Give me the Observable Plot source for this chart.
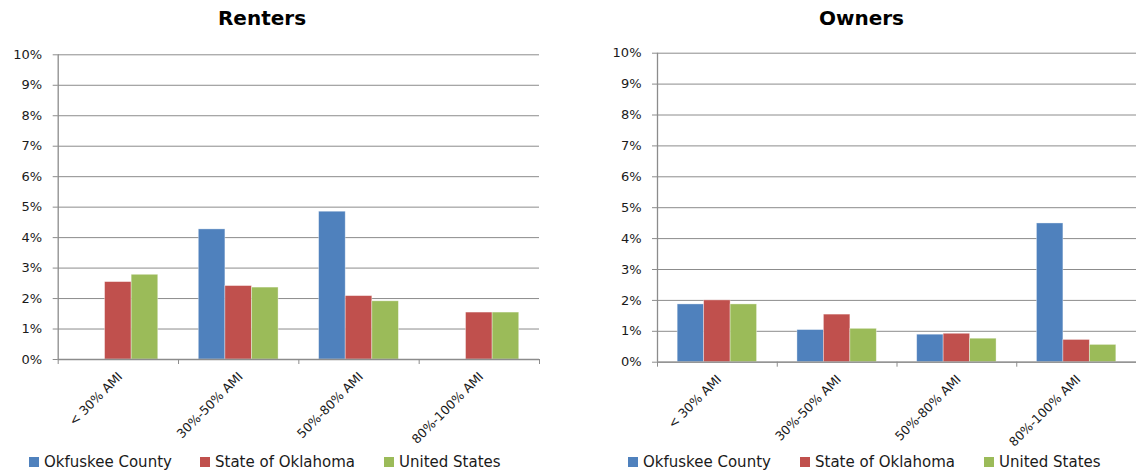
<!DOCTYPE html>
<html>
<head>
<meta charset="utf-8">
<script src="https://cdn.jsdelivr.net/npm/d3@7"></script>
<script src="https://cdn.jsdelivr.net/npm/@observablehq/plot@0.6"></script>
<style>
  html, body { margin: 0; padding: 0; background: #fff; }
  #wrap { position: relative; width: 1136px; height: 475px; overflow: hidden; font-family: "DejaVu Sans", sans-serif; color: #1a1a1a; }
  .panel { position: absolute; top: 0; }
  .title { position: absolute; top: 6px; font-weight: bold; font-size: 20px; transform: translateX(-50%); white-space: nowrap; color: #000; }
  .leg { position: absolute; top: 453px; font-size: 15px; white-space: nowrap; display: flex; align-items: center; color: #1a1a1a; }
  .sw { display: inline-block; width: 10px; height: 10px; margin-right: 5px; }
</style>
</head>
<body>
<div id="wrap"></div>
<script>
const categories = ["< 30% AMI", "30%-50% AMI", "50%-80% AMI", "80%-100% AMI"];
const seriesNames = ["Okfuskee County", "State of Oklahoma", "United States"];
const seriesColors = ["#4F81BD", "#C0504D", "#9BBB59"];

const rentersOkfuskee = [0, 4.27, 4.85, 0];
const rentersOklahoma = [2.54, 2.41, 2.08, 1.54];
const rentersUS = [2.78, 2.36, 1.91, 1.54];

const ownersOkfuskee = [1.87, 1.04, 0.89, 4.49];
const ownersOklahoma = [2.00, 1.54, 0.92, 0.72];
const ownersUS = [1.87, 1.08, 0.76, 0.56];

const yTicks = [0, 1, 2, 3, 4, 5, 6, 7, 8, 9, 10];

const GRID = "#8c8c8c";
const BAR_W = 0.221;
const GROUP_PAD = (1 - 3 * BAR_W) / 2;

function rows(seriesArrays) {
  const out = [];
  seriesArrays.forEach((arr, j) => {
    arr.forEach((v, i) => {
      out.push({cat: categories[i], ci: i, series: seriesNames[j], sj: j, value: v / 100});
    });
  });
  return out.filter(d => d.value > 0);
}

function panel({data, left, marginTop, marginBottom, marginLeft, marginRight}) {
  const height = 440;
  const chart = Plot.plot({
    width: 568,
    height,
    marginTop, marginBottom, marginLeft, marginRight,
    style: {fontFamily: "DejaVu Sans, sans-serif", color: "#1a1a1a", background: "transparent", overflow: "visible"},
    x: {domain: [0, categories.length], axis: null},
    y: {domain: [0, 0.1], axis: null},
    color: {domain: seriesNames, range: seriesColors},
    marks: [
      Plot.gridY(yTicks.map(t => t / 100), {stroke: GRID, strokeOpacity: 1, strokeWidth: 1}),
      Plot.rectY(data, {
        x1: d => d.ci + GROUP_PAD + d.sj * BAR_W,
        x2: d => d.ci + GROUP_PAD + (d.sj + 1) * BAR_W,
        y1: 0,
        y2: "value",
        fill: "series",
        stroke: "white",
        strokeOpacity: 0.45,
        strokeWidth: 0.8
      }),
      Plot.ruleY([0], {stroke: GRID, strokeWidth: 1.3}),
      Plot.ruleX([0], {y1: 0, y2: 0.1, stroke: GRID, strokeWidth: 1.3}),
      Plot.axisY({
        ticks: yTicks.map(t => t / 100),
        tickFormat: d3.format(".0%"),
        tickSize: 5,
        tickPadding: 11,
        fontSize: 13,
        stroke: GRID,
        fill: "#1a1a1a",
        label: null
      }),
      Plot.axisX({
        ticks: d3.range(categories.length + 1),
        tickFormat: () => "",
        tickSize: 5,
        stroke: GRID,
        label: null
      }),
      Plot.text(categories, {
        x: (d, i) => i + 0.5,
        y: 0,
        text: d => d,
        rotate: -45,
        textAnchor: "end",
        dx: 2,
        dy: 15,
        fontSize: 12.5,
        fill: "#1a1a1a"
      })
    ]
  });
  const holder = document.createElement("div");
  holder.className = "panel";
  holder.style.left = left + "px";
  holder.appendChild(chart);
  return holder;
}

const wrap = document.getElementById("wrap");

wrap.appendChild(panel({
  data: rows([rentersOkfuskee, rentersOklahoma, rentersUS]),
  left: 0, marginTop: 54.3, marginBottom: 81, marginLeft: 57.7, marginRight: 29
}));
wrap.appendChild(panel({
  data: rows([ownersOkfuskee, ownersOklahoma, ownersUS]),
  left: 568, marginTop: 52.7, marginBottom: 78.3, marginLeft: 89, marginRight: 0
}));

function title(text, cx) {
  const t = document.createElement("div");
  t.className = "title";
  t.style.left = cx + "px";
  t.textContent = text;
  wrap.appendChild(t);
}
title("Renters", 262);
title("Owners", 861.5);

function legend(positions) {
  seriesNames.forEach((name, j) => {
    const item = document.createElement("div");
    item.className = "leg";
    item.style.left = positions[j] + "px";
    const sw = document.createElement("span");
    sw.className = "sw";
    sw.style.background = seriesColors[j];
    item.appendChild(sw);
    item.appendChild(document.createTextNode(name));
    wrap.appendChild(item);
  });
}
legend([29, 200, 384]);
legend([628, 800, 984]);
</script>
</body>
</html>
